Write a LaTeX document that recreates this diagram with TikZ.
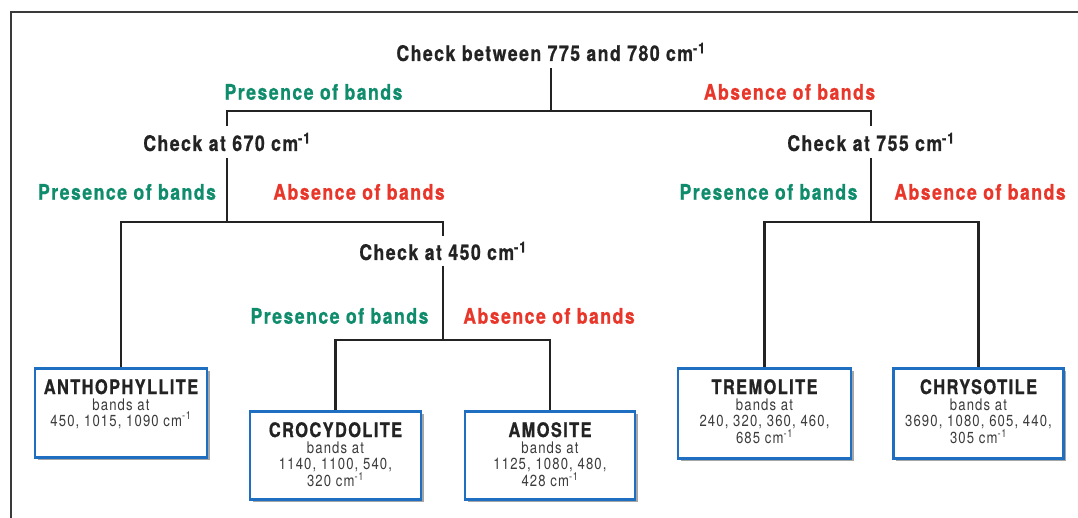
\documentclass[tikz,border=0pt]{standalone}
\usepackage{fontspec}
\setmainfont{TeX Gyre Heros}[FakeStretch=0.82,LetterSpace=7,BoldFeatures={FakeBold=0.8}]
\usetikzlibrary{shadows}
\definecolor{ink}{HTML}{232323}
\definecolor{pgreen}{HTML}{0E8C6C}
\definecolor{ared}{HTML}{E8372A}
\definecolor{boxblue}{HTML}{1E6EC2}
\definecolor{subgray}{HTML}{3C3C3C}
\definecolor{framegray}{HTML}{3A3A3A}
\newcommand\ftxtbig{\bfseries\fontsize{21.5}{24}\selectfont}
\newcommand\ftxtmin{\bfseries\fontsize{20}{16}\selectfont}
\newcommand\ftxtsub{\fontsize{16}{16}\selectfont}
\begin{document}
\begin{tikzpicture}[x=1pt,y=-1pt,
  check/.style={font=\ftxtbig, text=ink, inner sep=0pt, minimum height=32pt},
  pres/.style={font=\ftxtbig, text=pgreen, inner sep=0pt},
  absn/.style={font=\ftxtbig, text=ared, inner sep=0pt},
  mineral/.style={draw=boxblue, line width=2.8pt, fill=white, anchor=north,
    minimum width=172pt, inner sep=0pt,
    drop shadow={shadow xshift=2.5pt, shadow yshift=-2.5pt, fill=black, opacity=0.35}},
  mtext/.style={anchor=north, align=center, inner sep=0pt, font=\ftxtsub, text=subgray, yshift=-12pt},
  conn/.style={draw=ink, line width=2.5pt, line join=miter},
  frame/.style={draw=framegray, line width=1.5pt}]
\useasboundingbox (0,0) rectangle (1078,518);
\fill[white] (0,0) rectangle (1078,518);
\draw[frame] (11,518) -- (11,12) -- (1078,12);

% decision nodes
\node[check] (t0) at (551,52) {Check between 775 and 780 cm\textsuperscript{-1}};
\node[check] (c670) at (227,142) {Check at 670 cm\textsuperscript{-1}};
\node[check] (c755) at (871,142) {Check at 755 cm\textsuperscript{-1}};
\node[check, minimum height=29pt] (c450) at (443,251) {Check at 450 cm\textsuperscript{-1}};

% branch labels
\node[pres] (p0) at (313.5,92) {Presence of bands};
\node[absn] (a0) at (789.5,92) {Absence of bands};
\node[pres] (p1) at (127,192) {Presence of bands};
\node[absn] (a1) at (359,192) {Absence of bands};
\node[pres] (p2) at (768.5,192) {Presence of bands};
\node[absn] (a2) at (980,192) {Absence of bands};
\node[pres] (p3) at (339.5,316) {Presence of bands};
\node[absn] (a3) at (549,316) {Absence of bands};

% mineral boxes
\node[mineral, minimum height=89pt] (anth) at (121,367) {};
\node[mineral, minimum height=88pt, minimum width=171pt] (croc) at (335.5,410) {};
\node[mineral, minimum height=88pt, minimum width=170pt] (amos) at (550,410) {};
\node[mineral, minimum height=90pt, minimum width=173pt] (trem) at (764.5,367) {};
\node[mineral, minimum height=90pt, minimum width=170pt] (chry) at (978.5,367) {};

\node[mtext] (anthT) at (anth.north) {{\ftxtmin\color{ink}ANTHOPHYLLITE}\\bands at\\450, 1015, 1090 cm\textsuperscript{-1}};
\node[mtext] (crocT) at (croc.north) {{\ftxtmin\color{ink}CROCYDOLITE}\\bands at\\1140, 1100, 540,\\320 cm\textsuperscript{-1}};
\node[mtext] (amosT) at (amos.north) {{\ftxtmin\color{ink}AMOSITE}\\bands at\\1125, 1080, 480,\\428 cm\textsuperscript{-1}};
\node[mtext] (tremT) at (trem.north) {{\ftxtmin\color{ink}TREMOLITE}\\bands at\\240, 320, 360, 460,\\685 cm\textsuperscript{-1}};
\node[mtext] (chryT) at (chry.north) {{\ftxtmin\color{ink}CHRYSOTILE}\\bands at\\3690, 1080, 605, 440,\\305 cm\textsuperscript{-1}};

% bar levels
\coordinate (bar0) at (0,111);
\coordinate (bar1) at (0,222);
\coordinate (bar2) at (0,340);

% connectors
\draw[conn] (t0.south) -- (t0.south |- bar0);
\draw[conn] (c670.north) |- (c755.north |- bar0) -- (c755.north);
\draw[conn] (c670.south) -- (c670.south |- bar1);
\draw[conn] (anth.north) |- (c450.north |- bar1) -- (c450.north);
\draw[conn] (c755.south) -- (c755.south |- bar1);
\draw[conn] (trem.north) |- (chry.north |- bar1) -- (chry.north);
\draw[conn] (c450.south) -- (c450.south |- bar2);
\draw[conn] (croc.north) |- (amos.north |- bar2) -- (amos.north);
\end{tikzpicture}
\end{document}
